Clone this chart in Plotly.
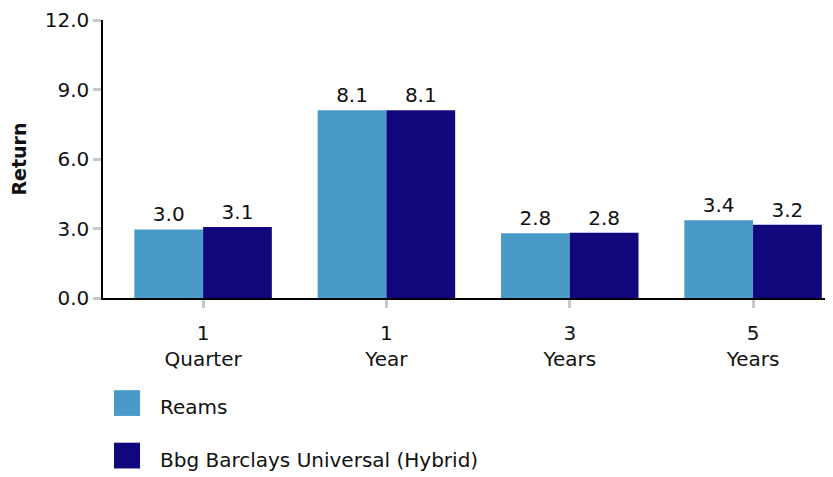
import plotly.graph_objects as go

categories = ["1<br>Quarter", "1<br>Year", "3<br>Years", "5<br>Years"]
series_names = ["Reams", "Bbg Barclays Universal (Hybrid)"]
reams = [2.96, 8.1, 2.79, 3.36]
bbg = [3.07, 8.1, 2.82, 3.16]
y_ticks = [0, 3, 6, 9, 12]
y_tick_labels = ["0.0", "3.0", "6.0", "9.0", "12.0"]
colors = ["#4A9AC7", "#12067C"]

FONT = "DejaVu Sans"
TXT = "#111111"
FS = 20

# page body has an 8px margin; compensate so the plot lands where the reference has it
OFF = 8
W, H = 833 - OFF, 477 - OFF

fig = go.Figure()
for name, vals, col in zip(series_names, [reams, bbg], colors):
    fig.add_trace(go.Bar(
        x=list(range(len(categories))), y=vals, name=name,
        marker=dict(color=col, line=dict(width=0)),
        text=[f"{v:.1f}" for v in vals], textposition="outside",
        textfont=dict(family=FONT, size=FS, color=TXT),
        constraintext="none", cliponaxis=False, showlegend=False,
    ))

fig.update_layout(
    width=W, height=H,
    margin=dict(l=103 - OFF, r=0, t=17.5 - OFF, b=179, pad=0),
    paper_bgcolor="white", plot_bgcolor="white",
    barmode="group", bargap=0.25, bargroupgap=0,
    font=dict(family=FONT, size=FS, color=TXT),
)
fig.update_xaxes(
    range=[-0.546, 3.436], tickmode="array",
    tickvals=list(range(len(categories))), ticktext=categories,
    showline=True, linecolor="black", linewidth=1.5,
    ticks="outside", ticklen=8, tickwidth=3, tickcolor="#c5c9cd",
    showgrid=False, zeroline=False, ticklabelstandoff=8,
    tickfont=dict(family=FONT, size=FS, color=TXT),
)
fig.update_yaxes(
    range=[0, 12], tickmode="array", tickvals=y_ticks, ticktext=y_tick_labels,
    showline=True, linecolor="black", linewidth=1.5,
    ticks="outside", ticklen=8, tickwidth=3, tickcolor="#c5c9cd",
    showgrid=False, zeroline=False, ticklabeloverflow="allow",
    title=dict(text="<b>Return</b>", font=dict(family=FONT, size=FS - 1, color=TXT), standoff=22),
    tickfont=dict(family=FONT, size=FS, color=TXT),
)

# legend drawn below the plot (paper coords: x 0..1 = 103..825px, y 0..1 = 298..17.5px)
PW = W - (103 - OFF)
PH = 280.5
def px_x(x):
    return (x - 103) / PW
def px_y(y):
    return (298 - y) / PH

leg = [(391, 417, 408), (444, 470, 461)]
for (top, bot, yc), name, col in zip(leg, series_names, colors):
    fig.add_shape(type="rect", xref="paper", yref="paper",
                  x0=px_x(114), x1=px_x(140), y0=px_y(bot), y1=px_y(top),
                  fillcolor=col, line=dict(width=0))
    fig.add_annotation(xref="paper", yref="paper", x=px_x(158), y=px_y(yc),
                       text=name, showarrow=False, xanchor="left", yanchor="middle",
                       font=dict(family=FONT, size=FS, color=TXT))

fig.write_html("out.html")
